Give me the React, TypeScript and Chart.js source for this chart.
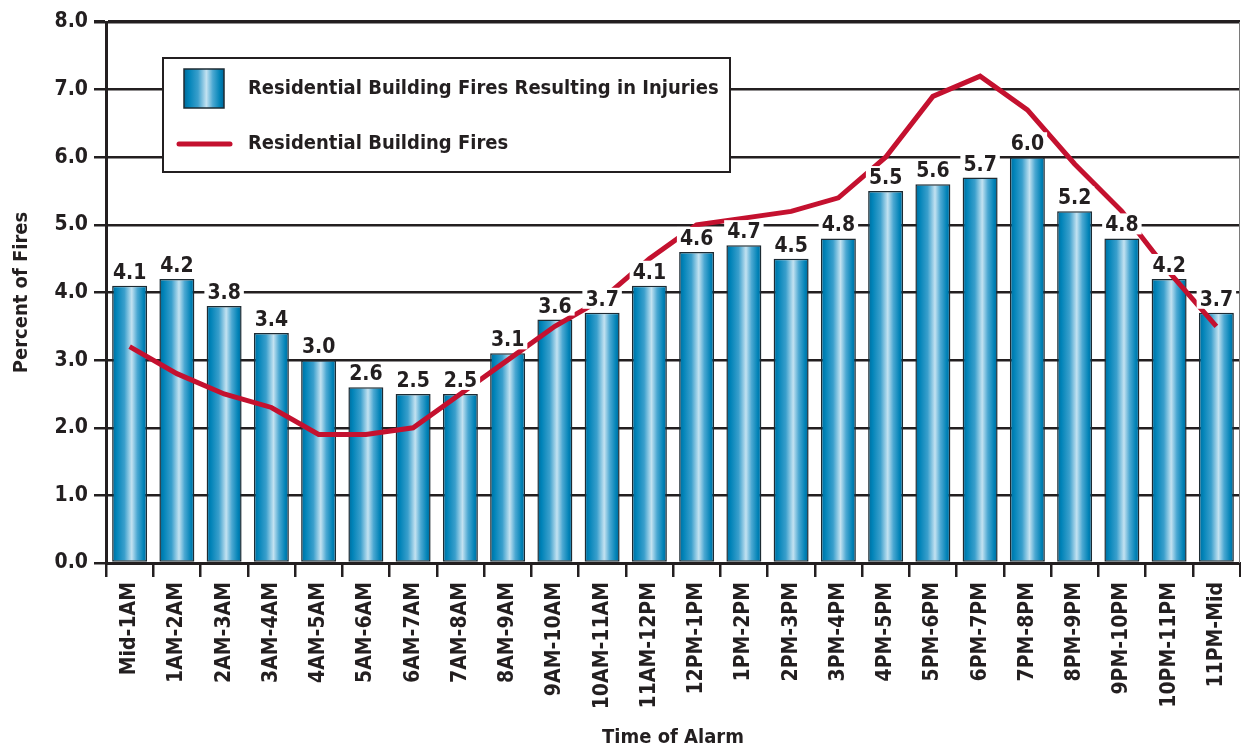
import React, { useEffect, useRef } from 'react';
import { Chart, registerables } from 'chart.js';

Chart.register(...registerables);

const categories = [
  'Mid-1AM', '1AM-2AM', '2AM-3AM', '3AM-4AM', '4AM-5AM', '5AM-6AM',
  '6AM-7AM', '7AM-8AM', '8AM-9AM', '9AM-10AM', '10AM-11AM', '11AM-12PM',
  '12PM-1PM', '1PM-2PM', '2PM-3PM', '3PM-4PM', '4PM-5PM', '5PM-6PM',
  '6PM-7PM', '7PM-8PM', '8PM-9PM', '9PM-10PM', '10PM-11PM', '11PM-Mid',
];

const injuryFires = [
  4.1, 4.2, 3.8, 3.4, 3.0, 2.6, 2.5, 2.5, 3.1, 3.6, 3.7, 4.1,
  4.6, 4.7, 4.5, 4.8, 5.5, 5.6, 5.7, 6.0, 5.2, 4.8, 4.2, 3.7,
];

const allFires = [
  3.2, 2.8, 2.5, 2.3, 1.9, 1.9, 2.0, 2.5, 3.0, 3.5, 3.9, 4.5,
  5.0, 5.1, 5.2, 5.4, 6.0, 6.9, 7.2, 6.7, 5.9, 5.2, 4.3, 3.5,
];

const seriesNames = [
  'Residential Building Fires Resulting in Injuries',
  'Residential Building Fires',
];

const axisTitles = { x: 'Time of Alarm', y: 'Percent of Fires' };

const TEXT_FONT = "'DejaVu Sans Condensed', 'DejaVu Sans', sans-serif";
const NUM_FONT = "'DejaVu Sans Condensed', 'DejaVu Sans', sans-serif";
const INK = '#231f20';
const RED = '#c4112f';
const BAR_PCT = 0.74;

function barGradient(ctx: CanvasRenderingContext2D, x0: number, x1: number) {
  const g = ctx.createLinearGradient(x0, 0, x1, 0);
  g.addColorStop(0, '#006a99');
  g.addColorStop(0.12, '#0083b8');
  g.addColorStop(0.35, '#3a9fcc');
  g.addColorStop(0.56, '#c3e2f1');
  g.addColorStop(0.72, '#4ba8d2');
  g.addColorStop(0.9, '#0082b6');
  g.addColorStop(1, '#00679a');
  return g;
}

const barLabelPlugin = {
  id: 'barLabels',
  afterDatasetsDraw(chart: any) {
    const ctx = chart.ctx as CanvasRenderingContext2D;
    const meta = chart.getDatasetMeta(0);
    ctx.save();
    ctx.font = `bold 21px ${NUM_FONT}`;
    ctx.textAlign = 'center';
    ctx.textBaseline = 'alphabetic';
    meta.data.forEach((el: any, i: number) => {
      const txt = injuryFires[i].toFixed(1);
      const w = ctx.measureText(txt).width;
      const base = el.y - 7;
      ctx.fillStyle = '#ffffff';
      ctx.fillRect(el.x - w / 2 - 3, base - 18, w + 6, 21);
      ctx.fillStyle = INK;
      ctx.fillText(txt, el.x, base);
    });
    ctx.restore();
  },
};

const frameLegendPlugin = {
  id: 'frameLegend',
  beforeDatasetsDraw(chart: any) {
    const ctx = chart.ctx as CanvasRenderingContext2D;
    const ca = chart.chartArea;
    ctx.save();
    ctx.strokeStyle = '#7a7a7a';
    ctx.lineWidth = 1;
    ctx.beginPath();
    ctx.moveTo(ca.right - 0.5, ca.top);
    ctx.lineTo(ca.right - 0.5, ca.bottom);
    ctx.stroke();
    ctx.restore();
  },
  afterDraw(chart: any) {
    const ctx = chart.ctx as CanvasRenderingContext2D;
    const ca = chart.chartArea;
    const x0 = ca.left + 57;
    const y0 = ca.top + 36;
    const w = 567;
    const h = 114;
    ctx.save();
    ctx.fillStyle = '#ffffff';
    ctx.fillRect(x0, y0, w, h);
    ctx.strokeStyle = INK;
    ctx.lineWidth = 2;
    ctx.strokeRect(x0, y0, w, h);

    // swatch for bars
    const sx = x0 + 21;
    const sy = y0 + 11;
    ctx.fillStyle = barGradient(ctx, sx, sx + 40);
    ctx.fillRect(sx, sy, 40, 39);
    ctx.strokeStyle = '#1d2b33';
    ctx.lineWidth = 1.5;
    ctx.strokeRect(sx, sy, 40, 39);

    ctx.font = `bold 20px ${TEXT_FONT}`;
    ctx.fillStyle = INK;
    ctx.textAlign = 'left';
    ctx.textBaseline = 'middle';
    ctx.fillText(chart.data.datasets[0].label, x0 + 85, sy + 20);

    // line swatch
    const ly = y0 + 86;
    ctx.strokeStyle = RED;
    ctx.lineWidth = 5;
    ctx.lineCap = 'round';
    ctx.beginPath();
    ctx.moveTo(x0 + 16, ly);
    ctx.lineTo(x0 + 67, ly);
    ctx.stroke();
    ctx.fillText(chart.data.datasets[1].label, x0 + 85, ly);
    ctx.restore();
  },
};

export default function App() {
  const canvasRef = useRef<HTMLCanvasElement | null>(null);

  useEffect(() => {
    if (!canvasRef.current) return;
    const chart = new Chart(canvasRef.current, {
      type: 'bar',
      data: {
        labels: categories,
        datasets: [
          {
            type: 'bar',
            label: seriesNames[0],
            data: injuryFires,
            order: 2,
            barPercentage: BAR_PCT,
            categoryPercentage: 1,
            borderColor: '#1d2b33',
            borderWidth: 1.5,
            borderSkipped: false,
            backgroundColor: (c: any) => {
              const ch = c.chart;
              if (!ch.chartArea || c.type !== 'data') return '#1a8cc0';
              const xs = ch.scales.x;
              const cx = xs.getPixelForValue(c.dataIndex);
              const bw = (xs.width / categories.length) * BAR_PCT;
              return barGradient(ch.ctx, cx - bw / 2, cx + bw / 2);
            },
          } as any,
          {
            type: 'line',
            label: seriesNames[1],
            data: allFires,
            order: 1,
            borderColor: RED,
            borderWidth: 5,
            pointRadius: 0,
            tension: 0,
            fill: false,
            borderCapStyle: 'butt',
            borderJoinStyle: 'miter',
          } as any,
        ],
      },
      options: {
        animation: false,
        responsive: true,
        maintainAspectRatio: false,
        layout: { padding: { top: 22, right: 1, bottom: 0, left: 0 } },
        plugins: {
          legend: { display: false },
          tooltip: { enabled: false },
        },
        scales: {
          x: {
            offset: true,
            grid: {
              display: true,
              offset: true,
              drawOnChartArea: false,
              drawTicks: true,
              tickLength: 14,
              lineWidth: 2.5,
              color: INK,
            },
            border: { display: true, width: 3, color: INK },
            ticks: {
              autoSkip: false,
              maxRotation: 90,
              minRotation: 90,
              padding: 5,
              color: INK,
              font: { family: TEXT_FONT, size: 21, weight: 'bold' },
            },
            title: {
              display: true,
              text: axisTitles.x,
              color: INK,
              font: { family: TEXT_FONT, size: 20, weight: 'bold', lineHeight: 1 },
              padding: { top: 0, bottom: 3 },
            },
            afterFit: (s: any) => {
              s.height = 188;
              s.paddingLeft = 0;
              s.paddingRight = 0;
            },
          },
          y: {
            min: 0,
            max: 8,
            ticks: {
              stepSize: 1,
              padding: 6,
              color: INK,
              font: { family: NUM_FONT, size: 21, weight: 'bold' },
              callback: (v: any) => Number(v).toFixed(1),
            },
            grid: {
              color: INK,
              tickLength: 12,
              drawTicks: true,
              lineWidth: (c: any) => (c.tick && c.tick.value === 8 ? 3.5 : 2.5),
            },
            border: { display: true, width: 3, color: INK },
            title: {
              display: true,
              text: axisTitles.y,
              color: INK,
              font: { family: TEXT_FONT, size: 20, weight: 'bold', lineHeight: 1 },
              padding: { top: 12, bottom: 0 },
            },
            afterFit: (s: any) => {
              s.width = 106;
            },
          },
        },
      } as any,
      plugins: [barLabelPlugin, frameLegendPlugin],
    });
    return () => chart.destroy();
  }, []);

  return (
    <div style={{ position: 'fixed', left: 0, top: 0, width: 1241, height: 751, background: '#fff' }}>
      <canvas ref={canvasRef} />
    </div>
  );
}
